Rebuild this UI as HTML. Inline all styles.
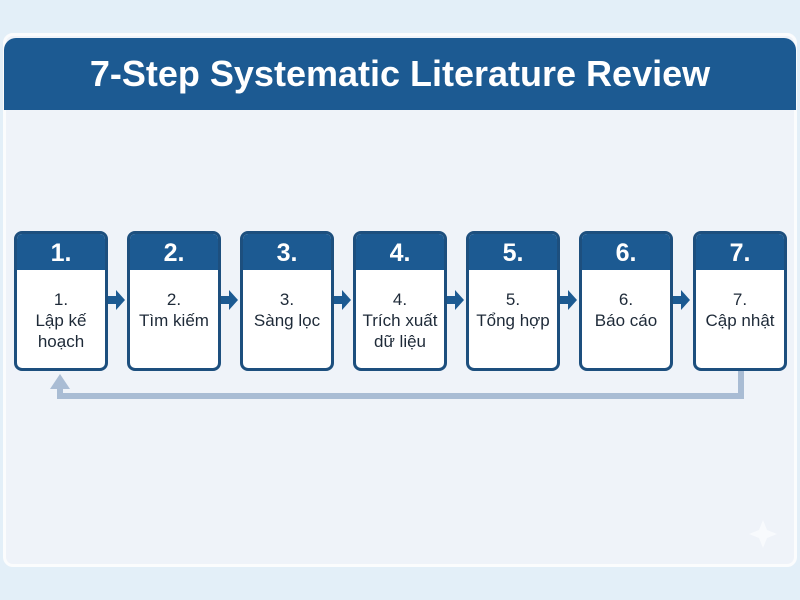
<!DOCTYPE html>
<html><head><meta charset="utf-8"><style>
*{margin:0;padding:0;box-sizing:border-box}
body{width:800px;height:600px;background:#e3eff8;position:relative;overflow:hidden;font-family:"Liberation Sans","DejaVu Sans",sans-serif}
.panel{position:absolute;left:3px;top:33px;width:794px;height:534px;background:#eff3f9;border:3px solid #fbfcfd;border-radius:10px}
.hdr{position:absolute;left:4px;top:38px;width:792px;height:72px;background:#1c5a92;border-radius:12px 12px 0 0;color:#fff;font-size:36px;font-weight:bold;text-align:center;line-height:72px}
.box{position:absolute;top:231px;width:94px;height:140px;border:3px solid #1d4f7e;border-radius:8px;background:#fff;overflow:hidden}
.box .h{height:36px;background:#1c5a92;color:#fff;font-weight:bold;font-size:25px;text-align:center;line-height:38px}
.box .t{font-size:17px;color:#1e2a38;text-align:center;line-height:21px;padding-top:19px}
</style></head><body>
<div class="panel"></div>
<div class="hdr">7-Step Systematic Literature Review</div>
<svg width="800" height="600" style="position:absolute;left:0;top:0">
<g fill="#1c5a92">
<path d="M108 296h8v-6l9 10-9 10v-6h-8z"/>
<path d="M221 296h8v-6l9 10-9 10v-6h-8z"/>
<path d="M334 296h8v-6l9 10-9 10v-6h-8z"/>
<path d="M447 296h8v-6l9 10-9 10v-6h-8z"/>
<path d="M560 296h8v-6l9 10-9 10v-6h-8z"/>
<path d="M673 296h8v-6l9 10-9 10v-6h-8z"/>
</g>
<path d="M741 370V396H60V388" fill="none" stroke="#a9bcd4" stroke-width="6"/>
<path d="M50 389L60 374L70 389Z" fill="#a9bcd4"/>
<path d="M763 520l4 10 10 4-10 4-4 10-4-10-10-4 10-4z" fill="#f8fafd"/>
</svg>
<div class="box" style="left:14px"><div class="h">1.</div><div class="t">1.<br>Lập kế<br>hoạch</div></div>
<div class="box" style="left:127px"><div class="h">2.</div><div class="t">2.<br>Tìm kiếm</div></div>
<div class="box" style="left:240px"><div class="h">3.</div><div class="t">3.<br>Sàng lọc</div></div>
<div class="box" style="left:353px"><div class="h">4.</div><div class="t">4.<br>Trích xuất<br>dữ liệu</div></div>
<div class="box" style="left:466px"><div class="h">5.</div><div class="t">5.<br>Tổng hợp</div></div>
<div class="box" style="left:579px"><div class="h">6.</div><div class="t">6.<br>Báo cáo</div></div>
<div class="box" style="left:693px"><div class="h">7.</div><div class="t">7.<br>Cập nhật</div></div>
</body></html>
